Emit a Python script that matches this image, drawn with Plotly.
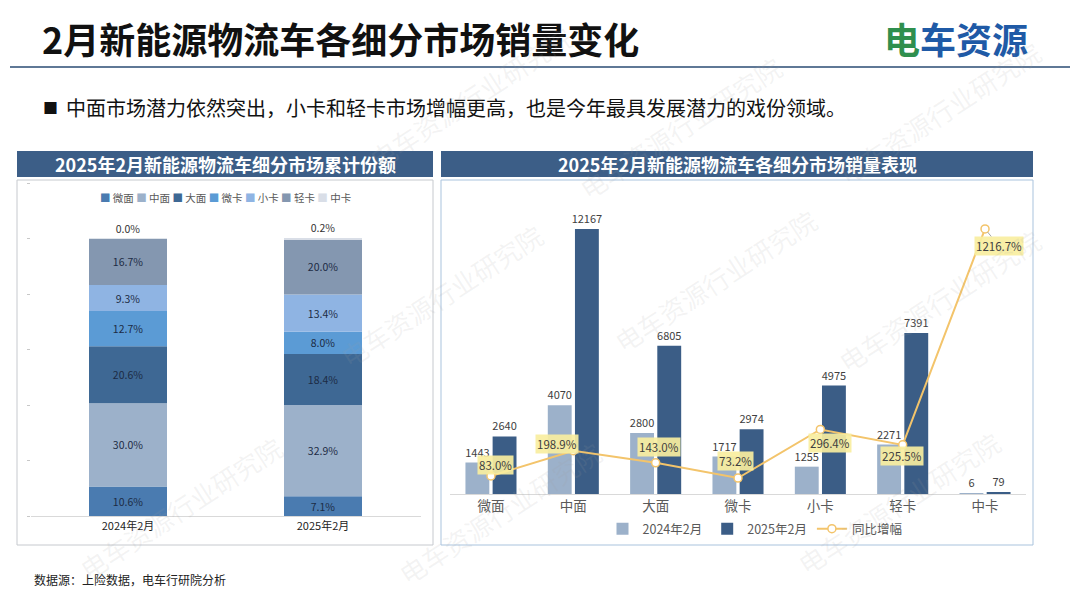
import plotly.graph_objects as go

# ---------------- data ----------------
share_periods = ["2024年2月", "2025年2月"]
share_segments = ["微面", "中面", "大面", "微卡", "小卡", "轻卡", "中卡"]
share_2024 = [10.6, 30.0, 20.6, 12.7, 9.3, 16.7, 0.0]
share_2025 = [7.1, 32.9, 18.4, 8.0, 13.4, 20.0, 0.2]

segments = ["微面", "中面", "大面", "微卡", "小卡", "轻卡", "中卡"]
sales_2024 = [1443, 4070, 2800, 1717, 1255, 2271, 6]
sales_2025 = [2640, 12167, 6805, 2974, 4975, 7391, 79]
yoy_growth = [83.0, 198.9, 143.0, 73.2, 296.4, 225.5, 1216.7]

# ---------------- styles ----------------
FONT = "Noto Sans CJK SC"
W, H = 1080, 608
share_colors = ["#4a7bb0", "#9cb1ca", "#3e6894", "#5b9bd5", "#8fb4e3", "#8497b0", "#d9dee7"]
c2024 = "#9cb1ca"
c2025 = "#3b5d86"
cline = "#f3c46b"
header_c = "#3c5e87"
label_offsets = [(5, 11), (-16, 7), (3, 16), (-3, 17), (10, -14), (-1, -11)]


def px(x):
    return x / W


def py(y):
    return 1 - y / H


fig = go.Figure()

# ---------- left stacked share chart ----------
base24, base25 = 0.0, 0.0
for i, seg in enumerate(share_segments):
    vals = [share_2024[i], share_2025[i]]
    last = i == len(share_segments) - 1
    fig.add_trace(go.Bar(
        x=share_periods, y=vals, base=[base24, base25],
        name=seg, marker=dict(color=share_colors[i], line=dict(width=0)),
        width=0.4, offset=-0.2,
        text=[f"{v:.1f}%" for v in vals],
        textposition="outside" if last else "inside",
        insidetextanchor="middle", constraintext="none",
        textfont=dict(size=10.5, color="#333333" if last else "#1c2b44", family=FONT),
        cliponaxis=False, showlegend=False, hoverinfo="skip",
        xaxis="x", yaxis="y",
    ))
    base24 += share_2024[i]
    base25 += share_2025[i]

# ---------- right sales chart ----------
fig.add_trace(go.Bar(
    x=segments, y=sales_2024, name="2024年2月",
    marker=dict(color=c2024, line=dict(width=0)), width=0.29, offset=-0.31,
    text=[str(v) for v in sales_2024], textposition="outside", constraintext="none",
    textfont=dict(size=11, color="#404040", family=FONT), cliponaxis=False,
    xaxis="x2", yaxis="y2", legend="legend2",
))
fig.add_trace(go.Bar(
    x=segments, y=sales_2025, name="2025年2月",
    marker=dict(color=c2025, line=dict(width=0)), width=0.29, offset=0.02,
    text=[str(v) for v in sales_2025], textposition="outside", constraintext="none",
    textfont=dict(size=11, color="#404040", family=FONT), cliponaxis=False,
    xaxis="x2", yaxis="y2", legend="legend2",
))
fig.add_trace(go.Scatter(
    x=segments, y=yoy_growth, name="同比增幅", mode="lines+markers",
    line=dict(color=cline, width=2),
    marker=dict(size=8, color="white", line=dict(color=cline, width=1.5)),
    cliponaxis=False, xaxis="x2", yaxis="y3", legend="legend2",
))

annotations = []
# line labels
for i, (seg, v) in enumerate(zip(segments, yoy_growth)):
    common = dict(x=seg, y=v, xref="x2", yref="y3", text=f"{v:.1f}%",
                  font=dict(size=11.5, color="#404040", family=FONT),
                  bgcolor="rgba(248,238,160,0.92)", borderpad=1)
    if i < len(label_offsets):
        dx, dy = label_offsets[i]
        annotations.append(dict(**common, showarrow=False, xshift=dx, yshift=dy))
    else:
        annotations.append(dict(**common, showarrow=True, ax=14, ay=17, arrowhead=0,
                                arrowwidth=1, arrowcolor="#a6a6a6", standoff=4))

# title and texts
annotations += [
    dict(x=px(40), y=py(38), xref="paper", yref="paper", xanchor="left", yanchor="middle",
         text="<b>2月新能源物流车各细分市场销量变化</b>", showarrow=False,
         font=dict(size=36, color="#111111", family=FONT)),
    dict(x=px(1030), y=py(38), xref="paper", yref="paper", xanchor="right", yanchor="middle",
         text="<b><span style='color:#2f8f4e'>电</span>车资源</b>", showarrow=False,
         font=dict(size=36, color="#1f5aa6", family=FONT)),
    dict(x=px(41), y=py(107), xref="paper", yref="paper", xanchor="left", yanchor="middle",
         text="■", showarrow=False, font=dict(size=15, color="#111111", family=FONT)),
    dict(x=px(64), y=py(107), xref="paper", yref="paper", xanchor="left", yanchor="middle",
         text="中面市场潜力依然突出，小卡和轻卡市场增幅更高，也是今年最具发展潜力的戏份领域。",
         showarrow=False, font=dict(size=20, color="#111111", family=FONT)),
    dict(x=px(225), y=py(164), xref="paper", yref="paper", xanchor="center", yanchor="middle",
         text="<b>2025年2月新能源物流车细分市场累计份额</b>", showarrow=False,
         font=dict(size=18, color="white", family=FONT)),
    dict(x=px(737), y=py(164), xref="paper", yref="paper", xanchor="center", yanchor="middle",
         text="<b>2025年2月新能源物流车各细分市场销量表现</b>", showarrow=False,
         font=dict(size=18, color="white", family=FONT)),
    dict(x=px(32), y=py(579), xref="paper", yref="paper", xanchor="left", yanchor="middle",
         text="数据源：上险数据，电车行研院分析", showarrow=False,
         font=dict(size=12, color="#222222", family=FONT)),
]

# left legend (compact)
leg_parts = [f"<span style='color:{c}'>■</span> {s}" for s, c in zip(share_segments, share_colors)]
annotations.append(dict(x=px(225), y=py(198), xref="paper", yref="paper",
                        xanchor="center", yanchor="middle", showarrow=False,
                        text=" ".join(leg_parts),
                        font=dict(size=10.5, color="#595959", family=FONT)))

# watermarks
for wx, wy in [(470, 15), (680, 45), (1050, 30), (330, 295), (715, 280),
               (1050, 300), (70, 590), (500, 595), (1010, 585)]:
    annotations.append(dict(x=px(wx), y=py(wy), xref="paper", yref="paper",
                            text="电车资源行业研究院", showarrow=False, textangle=-33,
                            font=dict(size=26, color="rgba(160,160,160,0.13)", family=FONT)))

shapes = [
    dict(type="line", xref="paper", yref="paper", x0=px(10), x1=px(1070), y0=py(67), y1=py(67),
         line=dict(color="#5f7896", width=2)),
    dict(type="rect", xref="paper", yref="paper", x0=px(17), x1=px(433), y0=py(177), y1=py(151),
         fillcolor=header_c, line=dict(width=0), layer="below"),
    dict(type="rect", xref="paper", yref="paper", x0=px(441), x1=px(1033), y0=py(177), y1=py(151),
         fillcolor=header_c, line=dict(width=0), layer="below"),
    dict(type="rect", xref="paper", yref="paper", x0=px(17), x1=px(433), y0=py(545), y1=py(180),
         fillcolor="rgba(0,0,0,0)", line=dict(color="#c6c9ce", width=1), layer="below"),
    dict(type="rect", xref="paper", yref="paper", x0=px(441), x1=px(1033), y0=py(545), y1=py(180),
         fillcolor="rgba(0,0,0,0)", line=dict(color="#a9c3dd", width=1), layer="below"),
]

fig.update_layout(
    width=W, height=H, margin=dict(l=0, r=0, t=0, b=0),
    paper_bgcolor="white", plot_bgcolor="rgba(0,0,0,0)",
    barmode="group",
    font=dict(family=FONT, color="#404040"),
    xaxis=dict(domain=[px(30.5), px(420.5)], anchor="y", showline=True, linecolor="#d9d9d9",
               linewidth=1, ticks="", showgrid=False,
               tickfont=dict(size=11, color="#222222", family=FONT)),
    yaxis=dict(domain=[py(516), py(183)], anchor="x", range=[0, 120], dtick=20,
               showgrid=False, zeroline=False, showticklabels=False,
               ticks="outside", ticklen=3, tickcolor="#c8c8c8", showline=False),
    xaxis2=dict(domain=[px(449.8), px(1026.2)], anchor="y2", showline=True, linecolor="#d9d9d9",
                linewidth=1, ticks="", showgrid=False,
                tickfont=dict(size=13.5, color="#595959", family=FONT)),
    yaxis2=dict(domain=[py(494), py(189)], anchor="x2", range=[0, 14000],
                visible=False, showgrid=False, zeroline=False),
    yaxis3=dict(overlaying="y2", anchor="x2", side="right", range=[0, 1400],
                visible=False, showgrid=False, zeroline=False),
    legend2=dict(orientation="h", x=px(755), y=py(529), xanchor="center", yanchor="middle",
                 font=dict(size=12.5, color="#595959", family=FONT), itemwidth=30,
                 bgcolor="rgba(0,0,0,0)"),
    annotations=annotations,
    shapes=shapes,
)

fig.write_html("out.html")
